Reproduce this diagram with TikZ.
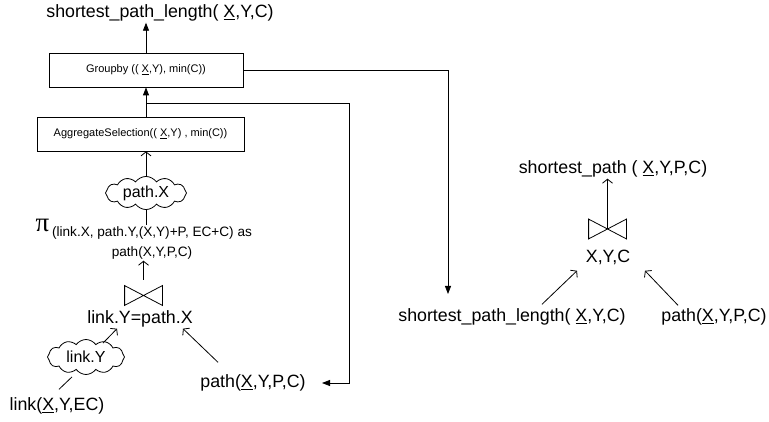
\documentclass[tikz,border=0pt]{standalone}
\usepackage{fontspec}
\setmainfont{Liberation Sans}
\newfontfamily\grk{Liberation Serif}
\usetikzlibrary{arrows.meta,shapes.symbols}
\newcommand{\ux}{\underline{X}}
\begin{document}
\begin{tikzpicture}[x=1pt,y=-1pt,line width=0.8pt,
    lbl/.style={inner sep=1pt,font=\fontsize{17.8}{20}\selectfont},
    opbox/.style={draw,minimum height=34pt,inner sep=0pt,font=\fontsize{11}{13}\selectfont},
    tmp/.style={cloud,draw,cloud puffs=12,cloud puff arc=110,aspect=2.6,inner sep=0pt,font=\fontsize{16}{18}\selectfont},
    jn/.style={minimum width=37pt,minimum height=19pt,inner sep=0pt},
    farrow/.style={-{Triangle[length=8pt,width=6pt]}},
    oarrow/.style={-{Straight Barb[length=4pt,width=10pt]}}]
  \useasboundingbox (0,0) rectangle (769,422);
  \node[lbl] (spl1) at (160,13) {shortest\_path\_length(\ \ux,Y,C)};
  \node[opbox,minimum width=194pt] (grp) at (146,70) {Groupby (( \ux,Y), min(C))};
  \node[opbox,minimum width=207pt] (agg) at (140.5,134) {AggregateSelection((\ \ux,Y) , min(C))};
  \node[tmp,minimum width=81pt,minimum height=30pt] (cx) at (146,193) {path.X};
  \node[font=\fontsize{27}{27}\grk] (pi) at (42.5,225) {π};
  \node[align=center,inner sep=1pt,font=\fontsize{13.6}{20}\selectfont] (proj) at (152,243) {(link.X, path.Y,(X,Y)+P, EC+C) as\\path(X,Y,P,C)};
  \node[jn] (j1) at (143.5,295.5) {};
  \draw (j1.north west) -- (j1.south west) -- (j1.north east) -- (j1.south east) -- cycle;
  \node[lbl] (jc1) at (140,319) {link.Y=path.X};
  \node[tmp,minimum width=77pt,minimum height=35pt] (cy) at (86,357) {link.Y};
  \node[lbl] (lk) at (57,406) {link(\ux,Y,EC)};
  \node[lbl] (pth1) at (253,383) {path(\ux,Y,P,C)};

  \node[lbl] (sp) at (613,169) {shortest\_path (\ \ux,Y,P,C)};
  \node[jn] (j2) at (607.5,229) {};
  \draw (j2.north west) -- (j2.south west) -- (j2.north east) -- (j2.south east) -- cycle;
  \node[lbl] (jc2) at (608,257) {X,Y,C};
  \node[lbl] (spl2) at (512,317) {shortest\_path\_length(\ \ux,Y,C)};
  \node[lbl] (pth2) at (714,317) {path(\ux,Y,P,C)};

  \coordinate (e1) at (448,294);
  \coordinate (r1) at (349,383);

  \draw[farrow] (grp.north) -- (grp.north |- spl1.south);
  \draw[farrow] (grp.south |- agg.north) -- (grp.south);
  \draw[farrow] (grp.east) -| (e1);
  \draw[farrow,shorten >=15pt] ([yshift=-16pt]grp.south) -| (r1) -- (pth1.east);
  \draw[oarrow] (cx.north) -- (cx.north |- agg.south);
  \draw (cx.south) -- (cx.south |- proj.north);
  \draw[oarrow] ([yshift=6pt]j1.north) -- (j1.north |- proj.south);
  \draw[oarrow] ([xshift=17pt,yshift=-4pt]cy.north) -- ([xshift=-23pt]jc1.south);
  \draw ([xshift=2pt,yshift=7pt]lk.north) -- ([xshift=-14pt,yshift=-2pt]cy.south);
  \draw[oarrow] ([xshift=-35pt,yshift=11pt]pth1.north) -- ([xshift=43pt]jc1.south);

  \draw[oarrow] (j2.center) -- (j2.center |- sp.south);
  \draw[oarrow] ([xshift=30pt,yshift=3pt]spl2.north) -- ([xshift=-31pt,yshift=-5pt]jc2.south);
  \draw[oarrow] ([xshift=-36pt,yshift=2pt]pth2.north) -- ([xshift=37pt,yshift=-5pt]jc2.south);
\end{tikzpicture}
\end{document}
